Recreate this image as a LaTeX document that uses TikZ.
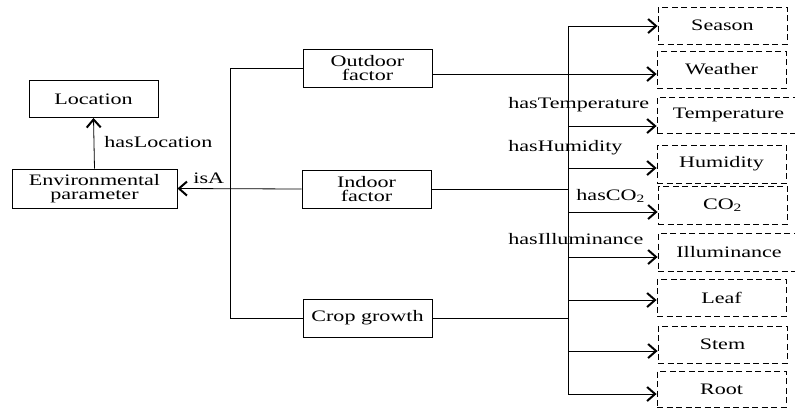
\documentclass[tikz,border=0pt]{standalone}
\usepackage{fontspec}
\setmainfont{Liberation Serif}[FakeStretch=1.38]
\usetikzlibrary{arrows.meta,positioning}

\tikzset{
  solidbox/.style={draw=black, line width=0.9pt, inner sep=0pt, minimum width=129pt, minimum height=38pt, align=center, font=\fontsize{16}{14.5}\selectfont},
  dashbox/.style={solidbox, line width=0.8pt, dash pattern=on 6pt off 3.5pt},
  rel/.style={inner sep=0pt, anchor=west, font=\fontsize{16}{14.5}\selectfont},
  arr/.style={-{Straight Barb[length=8pt,width=14pt,line width=2pt]}},
}

\begin{document}
\begin{tikzpicture}[x=1pt, y=-1pt, line width=0.8pt]
  \useasboundingbox (0,0) rectangle (795,408);

  % left part
  \node[solidbox, minimum height=37pt] (loc) at (93.5,99) {Location};
  \node[solidbox, minimum width=165pt, minimum height=39pt] (env) at (94.5,188.5) {Environmental\\parameter};
  \node[solidbox] (outdoor) at (367.5,68) {Outdoor\\factor};
  \node[solidbox] (indoor) at (366.5,189) {Indoor\\factor};
  \node[solidbox] (crop) at (367.5,318) {Crop growth};

  % right part
  \node[dashbox, minimum height=37pt] (season) at (722.5,25.5) {Season};
  \node[dashbox, minimum height=37pt] (weather) at (721.5,69.5) {Weather};
  \node[dashbox, minimum width=143pt, minimum height=36pt] (temp) at (728.5,115) {Temperature};
  \node[dashbox] (hum) at (721.5,164) {Humidity};
  \node[dashbox] (co2) at (722.5,205) {CO\textsubscript{2}};
  \node[dashbox, minimum width=142pt] (illum) at (729,252) {Illuminance};
  \node[dashbox, minimum height=37pt] (leaf) at (721.5,297.5) {Leaf};
  \node[dashbox, minimum height=37pt] (stem) at (722.5,344.5) {Stem};
  \node[dashbox, minimum height=36pt] (root) at (721.5,389) {Root};

  \coordinate (lt) at (230,68);
  \coordinate (lb) at (230,318);
  \coordinate (rt) at (568,26);
  \coordinate (rb) at (568,394);

  \draw[arr] (env.north) -- (loc.south);
  \node[rel] (haslocation) at (104,142) {hasLocation};
  \draw (outdoor.west) -- (lt) -- (lb) -- (crop.west);
  \draw[arr] (indoor.west) -- (env.east);
  \node[rel] (isa) at (193,178) {isA};

  \draw (rt) -- (rb);
  \draw (indoor.east) -- (rt |- indoor.east);
  \draw (crop.east) -- (rt |- crop.east);
  \draw[arr] (outdoor.east |- 0,74) -- (weather.west |- 0,74);
  \foreach \n/\y in {season/26, temp/126, hum/168, co2/212, illum/257, leaf/300, stem/351, root/394}
    \draw[arr] (rt |- 0,\y) -- (\n.west |- 0,\y);

  \node[rel] (hastemp) at (508,105) {hasTemperature};
  \node[rel] (hashum) at (508,148) {hasHumidity};
  \node[rel] (hasco2) at (576,196) {hasCO\textsubscript{2}};
  \node[rel] (hasillum) at (508,239) {hasIlluminance};
\end{tikzpicture}
\end{document}
